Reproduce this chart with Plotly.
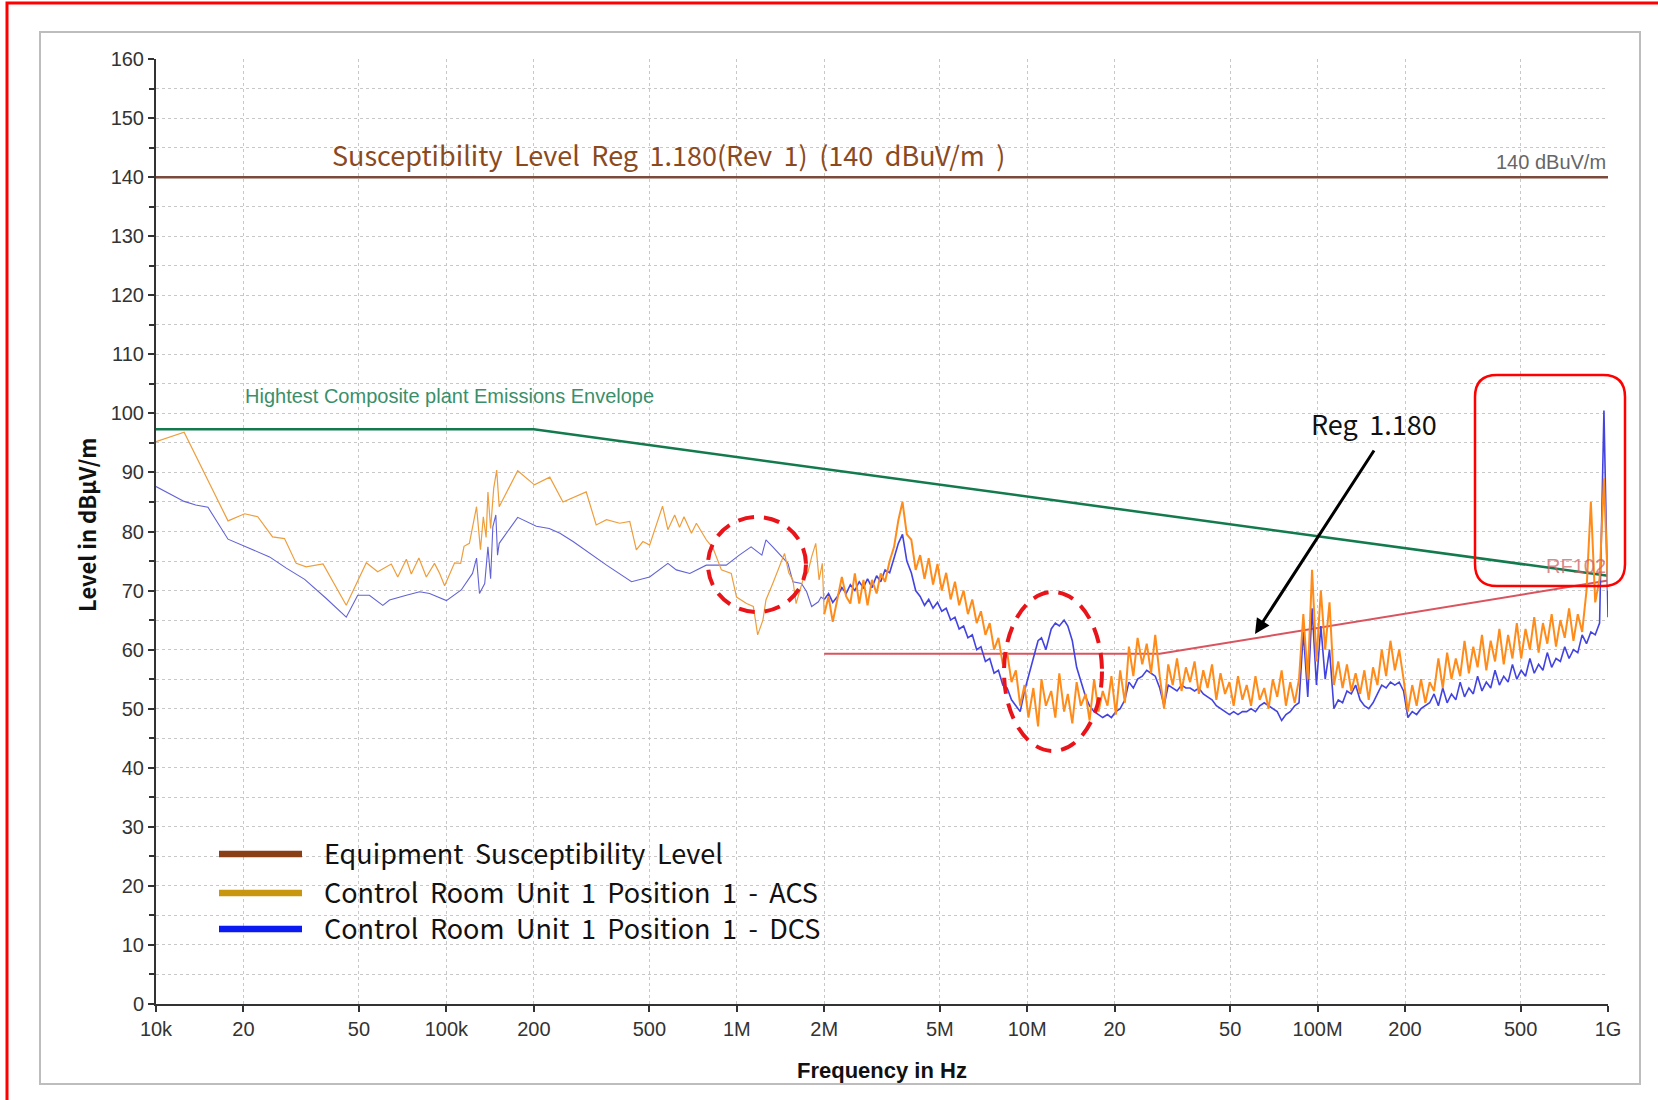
import plotly.graph_objects as go

# ---------------- data ----------------
# ACS (Control Room Unit 1 Position 1 - ACS), low-frequency part (Hz, dBuV/m)
acs_low_hz = [1.00e4, 1.25e4, 1.77e4, 2.02e4, 2.24e4, 2.52e4, 2.77e4, 3.04e4, 3.29e4, 3.76e4,
              4.52e4, 5.30e4, 5.80e4, 6.46e4, 6.80e4, 7.28e4, 7.57e4, 8.04e4, 8.53e4, 9.10e4,
              9.48e4, 9.86e4, 1.067e5, 1.12e5, 1.15e5, 1.20e5, 1.27e5, 1.31e5, 1.34e5, 1.37e5,
              1.39e5, 1.42e5, 1.455e5, 1.49e5, 1.52e5, 1.76e5, 2.01e5, 2.27e5, 2.52e5, 3.03e5,
              3.28e5, 3.56e5, 3.95e5, 4.28e5, 4.51e5, 4.75e5, 5.01e5, 5.55e5, 5.79e5, 6.11e5,
              6.35e5, 6.58e5, 6.98e5, 7.26e5, 7.85e5, 8.28e5, 8.85e5, 9.57e5, 9.98e5, 1.08e6,
              1.14e6, 1.18e6, 1.23e6, 1.26e6, 1.33e6, 1.41e6, 1.46e6, 1.51e6, 1.56e6, 1.60e6,
              1.69e6, 1.76e6, 1.81e6, 1.87e6, 1.92e6, 1.97e6]
acs_low_db = [95.2, 96.8, 81.8, 83.0, 82.5, 79.1, 78.8, 74.6, 74.0, 74.5,
              67.5, 74.7, 73.2, 74.5, 72.3, 75.3, 72.8, 75.5, 72.3, 74.6,
              72.9, 70.8, 74.7, 74.6, 77.5, 78.0, 84.2, 76.9, 82.5, 79.0,
              86.7, 80.5, 87.3, 90.4, 84.2, 90.3, 87.9, 89.2, 85.0, 86.7,
              81.1, 82.0, 81.4, 81.7, 76.9, 78.3, 77.7, 84.3, 80.3, 82.8,
              80.7, 82.5, 79.7, 81.4, 78.6, 77.2, 73.5, 72.9, 68.9, 67.8,
              67.3, 62.5, 65.0, 68.4, 71.2, 74.6, 76.3, 73.0, 71.8, 67.8,
              71.8, 73.2, 75.7, 78.0, 71.8, 74.6]

# DCS (Control Room Unit 1 Position 1 - DCS), low-frequency part
dcs_low_hz = [1.00e4, 1.25e4, 1.37e4, 1.51e4, 1.77e4, 2.10e4, 2.46e4, 2.81e4, 3.25e4, 3.85e4,
              4.52e4, 4.95e4, 5.43e4, 6.04e4, 6.37e4, 7.28e4, 8.09e4, 8.75e4, 1.00e5, 1.125e5,
              1.23e5, 1.27e5, 1.30e5, 1.355e5, 1.39e5, 1.42e5, 1.445e5, 1.48e5, 1.50e5, 1.52e5,
              1.76e5, 2.04e5, 2.26e5, 2.46e5, 2.73e5, 3.56e5, 4.34e5, 5.01e5, 5.79e5, 6.19e5,
              6.89e5, 7.85e5, 9.20e5, 1.02e6, 1.12e6, 1.22e6, 1.26e6, 1.33e6, 1.41e6, 1.50e6,
              1.56e6, 1.67e6, 1.74e6, 1.81e6, 1.91e6, 1.95e6]
dcs_low_db = [87.6, 85.1, 84.5, 84.1, 78.7, 77.2, 75.7, 73.8, 71.9, 68.7,
              65.5, 69.2, 69.2, 67.5, 68.4, 69.2, 69.8, 69.5, 68.3, 70.1,
              72.9, 75.5, 69.5, 71.2, 77.4, 72.0, 80.8, 82.8, 76.0, 78.0,
              82.4, 80.9, 80.5, 79.7, 78.3, 74.3, 71.5, 72.3, 74.6, 73.5,
              72.9, 74.3, 74.3, 76.0, 77.4, 76.0, 78.6, 77.4, 76.0, 74.6,
              71.5, 71.2, 69.8, 67.3, 68.1, 68.9]

# Swept part 2 MHz - 1 GHz (MHz)
sweep_mhz = [2.00, 2.07, 2.14, 2.22, 2.30, 2.38, 2.46, 2.55, 2.64, 2.73,
             2.82, 2.92, 3.03, 3.13, 3.24, 3.36, 3.48, 3.60, 3.72, 3.85,
             3.99, 4.13, 4.28, 4.43, 4.58, 4.74, 4.91, 5.08, 5.26, 5.45,
             5.64, 5.83, 6.04, 6.25, 6.47, 6.70, 6.93, 7.18, 7.43, 7.69,
             7.96, 8.24, 8.53, 8.83, 9.14, 9.46, 9.79, 10.1, 10.5, 10.9,
             11.2, 11.6, 12.1, 12.5, 12.9, 13.4, 13.8, 14.3, 14.8, 15.3,
             15.9, 16.4, 17.0, 17.6, 18.2, 18.9, 19.5, 20.2, 20.9, 21.7,
             22.4, 23.2, 24.0, 24.9, 25.8, 26.7, 27.6, 28.6, 29.6, 30.6,
             31.7, 32.8, 34.0, 35.2, 36.4, 37.7, 39.0, 40.4, 41.8, 43.3,
             44.8, 46.3, 48.0, 49.7, 51.4, 53.2, 55.1, 57.0, 59.0, 61.1,
             63.2, 65.5, 67.8, 70.1, 72.6, 75.2, 77.8, 80.5, 83.4, 86.3,
             89.3, 92.5, 95.7, 99.1, 102.6, 106.2, 109.9, 113.8, 117.8, 121.9,
             126.2, 130.6, 135.2, 140.0, 144.9, 150.0, 155.2, 160.7, 166.3, 172.2,
             178.2, 184.5, 191.0, 197.7, 204.6, 211.8, 219.3, 227.0, 235.0, 243.2,
             251.8, 260.6, 269.8, 279.3, 289.1, 299.2, 309.7, 320.6, 331.9, 343.6,
             355.6, 368.1, 381.1, 394.5, 408.3, 422.7, 437.5, 452.9, 468.8, 485.3,
             502.3, 520.0, 538.3, 557.2, 576.8, 597.0, 618.0, 639.7, 662.2, 685.5,
             709.6, 734.5, 760.3, 787.0, 814.7, 843.3, 873.0, 903.6, 935.4, 968.3,
             1000.0]
acs_sweep_db = [66.0, 69.0, 64.7, 68.4, 72.3, 69.0, 67.8, 72.9, 67.8, 71.8,
                67.5, 71.8, 69.5, 72.9, 71.5, 75.0, 77.4, 81.9, 85.0, 79.5,
                78.6, 73.5, 76.0, 72.0, 75.5, 71.0, 74.5, 70.0, 73.0, 68.5,
                71.5, 67.5, 70.0, 66.0, 68.5, 64.5, 66.5, 62.5, 64.5, 60.0,
                62.0, 57.5, 59.5, 54.5, 56.5, 50.5, 54.0, 48.5, 53.5, 47.0,
                55.0, 50.5, 53.0, 48.5, 56.0, 49.5, 52.5, 47.5, 54.5, 50.5,
                52.5, 48.0, 55.0, 49.5, 53.0, 50.5, 55.5, 49.0, 56.5, 51.0,
                60.5, 55.5, 62.0, 57.5, 61.0, 56.0, 62.5, 55.5, 50.0, 57.5,
                54.0, 58.5, 53.0, 57.0, 54.5, 58.0, 52.5, 56.5, 53.5, 57.5,
                51.5, 56.0, 52.5, 54.5, 50.5, 55.5, 51.5, 54.0, 50.5, 55.5,
                51.5, 53.5, 50.0, 55.0, 52.0, 56.5, 50.5, 54.5, 51.0, 55.0,
                66.0, 55.0, 73.5, 58.0, 70.0, 60.0, 68.0, 54.0, 58.0, 53.5,
                57.5, 53.0, 56.0, 52.5, 56.5, 51.5, 57.0, 54.0, 60.0, 55.5,
                61.5, 56.5, 60.0, 55.0, 49.5, 54.0, 50.5, 55.0, 51.0, 54.5,
                53.0, 58.5, 53.5, 59.5, 55.0, 58.5, 55.5, 61.5, 56.0, 60.5,
                57.0, 62.5, 56.5, 61.5, 58.0, 63.5, 57.5, 62.5, 58.5, 64.5,
                58.5, 63.5, 60.0, 65.5, 59.5, 64.5, 61.0, 66.0, 60.5, 65.0,
                62.0, 67.0, 61.5, 66.0, 63.0, 70.0, 85.0, 68.0, 72.0, 89.0,
                70.0]
dcs_sweep_db = [68.5, 69.5, 68.0, 69.0, 70.5, 69.5, 71.0, 70.0, 71.5, 70.5,
                72.0, 70.5, 72.5, 71.5, 73.5, 73.0, 75.5, 78.0, 79.5, 75.0,
                73.0, 70.0, 69.0, 67.5, 68.5, 67.0, 68.0, 66.5, 67.0, 65.0,
                65.5, 63.5, 64.0, 62.0, 62.5, 60.0, 60.5, 58.0, 58.5, 56.0,
                56.5, 54.0, 53.5, 51.5, 50.5, 49.5, 53.0, 55.5, 58.5, 61.5,
                62.0, 60.0, 63.5, 64.5, 64.0, 65.0, 64.0, 61.5, 57.0, 54.5,
                52.0, 50.5, 49.5, 49.0, 48.5, 49.0, 48.5, 49.5, 50.0, 51.5,
                54.5, 53.5, 55.0, 55.5, 56.5, 56.0, 55.5, 53.5, 50.5, 54.0,
                53.5, 53.0, 54.0, 53.5, 53.5, 53.0, 53.5, 52.5, 52.0, 51.5,
                50.5, 50.0, 49.5, 49.0, 49.5, 49.0, 49.5, 49.5, 50.0, 49.5,
                50.5, 51.0, 50.5, 50.0, 49.5, 48.0, 49.0, 49.5, 50.5, 51.0,
                63.0, 52.0, 67.0, 54.0, 64.0, 55.0, 60.0, 50.0, 51.5, 51.0,
                53.0, 52.5, 54.0, 51.5, 50.5, 50.0, 51.0, 52.5, 54.0, 53.5,
                54.5, 54.0, 54.5, 53.0, 48.5, 49.5, 49.0, 50.0, 50.5, 51.0,
                52.5, 50.5, 53.5, 51.0, 52.5, 51.5, 54.5, 52.0, 53.5, 52.5,
                55.5, 53.0, 54.5, 53.5, 56.5, 54.0, 55.5, 54.5, 57.5, 55.0,
                56.5, 55.5, 58.5, 56.0, 57.5, 56.5, 59.5, 57.0, 58.5, 58.0,
                60.5, 58.5, 60.0, 59.5, 62.5, 61.0, 63.0, 62.5, 64.5, 100.5,
                65.5]

# Limit lines
susc_hz = [1e4, 1e9]
susc_db = [140, 140]
envelope_hz = [1e4, 2e5, 1e9]
envelope_db = [97.3, 97.3, 72.5]
rf102_hz = [2e6, 2.86e7, 1e9]
rf102_db = [59.3, 59.3, 71.7]

tick_hz = [1e4, 2e4, 5e4, 1e5, 2e5, 5e5, 1e6, 2e6, 5e6, 1e7, 2e7, 5e7, 1e8, 2e8, 5e8, 1e9]
tick_text = ['10k', '20', '50', '100k', '200', '500', '1M', '2M', '5M', '10M', '20', '50',
             '100M', '200', '500', '1G']

legend_names = ['Equipment Susceptibility Level',
                'Control Room Unit 1 Position 1 - ACS',
                'Control Room Unit 1 Position 1 - DCS']
legend_colors = ['#8B3F14', '#C9960F', '#0A1AF0']


def wide(s):
    # the original font has wider word spaces
    return s.replace(' ', ' \u2009')


# ---------------- figure ----------------
sweep_hz = [f * 1e6 for f in sweep_mhz]

fig = go.Figure()
fig.add_trace(go.Scatter(x=susc_hz, y=susc_db, mode='lines',
                         line=dict(color='#7A4A3C', width=2.5), showlegend=False))
fig.add_trace(go.Scatter(x=envelope_hz, y=envelope_db, mode='lines',
                         line=dict(color='#137A4E', width=2.5), showlegend=False))
fig.add_trace(go.Scatter(x=rf102_hz, y=rf102_db, mode='lines',
                         line=dict(color='#D9545E', width=2), showlegend=False))
# DCS
fig.add_trace(go.Scatter(x=dcs_low_hz + sweep_hz[:1], y=dcs_low_db + dcs_sweep_db[:1],
                         mode='lines', line=dict(color='#6262D6', width=1.1), showlegend=False))
fig.add_trace(go.Scatter(x=sweep_hz, y=dcs_sweep_db, mode='lines',
                         line=dict(color='#4343E2', width=1.6), showlegend=False))
# ACS
fig.add_trace(go.Scatter(x=acs_low_hz + sweep_hz[:1], y=acs_low_db + acs_sweep_db[:1],
                         mode='lines', line=dict(color='#EE9E3C', width=1.2), showlegend=False))
fig.add_trace(go.Scatter(x=sweep_hz, y=acs_sweep_db, mode='lines',
                         line=dict(color='#FF8C1A', width=2.0), showlegend=False))

L, R, T, B = 156, 50, 59, 96
W, H = 1658, 1100
pw, ph = W - L - R, H - T - B


def px(x):
    return (x - L) / pw


def py(y):
    return (H - B - y) / ph


shapes = []
annotations = []

# outer red frame and gray panel frame
shapes.append(dict(type='rect', xref='paper', yref='paper', x0=px(7), x1=px(1700),
                   y0=py(1140), y1=py(3), line=dict(color='#FF0000', width=3)))
shapes.append(dict(type='rect', xref='paper', yref='paper', x0=px(40), x1=px(1640),
                   y0=py(1084), y1=py(32), line=dict(color='#BDBDBD', width=2)))

# legend (manual)
leg_y = [854, 893, 929]
for name, col, yy in zip(legend_names, legend_colors, leg_y):
    shapes.append(dict(type='line', xref='paper', yref='paper', x0=px(219), x1=px(302),
                       y0=py(yy), y1=py(yy), line=dict(color=col, width=6.5)))
    annotations.append(dict(xref='paper', yref='paper', x=px(322), y=py(yy - 2), text=wide(name),
                            showarrow=False, xanchor='left', yanchor='middle',
                            font=dict(family='Noto Sans CJK KR', size=27, color='#111')))

# dashed red ellipses
shapes.append(dict(type='circle', xref='paper', yref='paper', x0=px(708), x1=px(806),
                   y0=py(612), y1=py(517), line=dict(color='#E8141A', width=4, dash='16px,10px')))
shapes.append(dict(type='circle', xref='paper', yref='paper', x0=px(1004), x1=px(1102),
                   y0=py(751), y1=py(592), line=dict(color='#E8141A', width=4, dash='16px,10px')))

# rounded red rectangle
x0, x1, yt, yb = px(1475), px(1625), py(375), py(586)
rx, ry = 22 / pw, 22 / ph
path = (f"M {x0+rx},{yt} L {x1-rx},{yt} Q {x1},{yt} {x1},{yt-ry} L {x1},{yb+ry} "
        f"Q {x1},{yb} {x1-rx},{yb} L {x0+rx},{yb} Q {x0},{yb} {x0},{yb+ry} "
        f"L {x0},{yt-ry} Q {x0},{yt} {x0+rx},{yt} Z")
shapes.append(dict(type='path', xref='paper', yref='paper', path=path,
                   line=dict(color='#FF0000', width=2.5)))

# texts
annotations.append(dict(xref='paper', yref='paper', x=px(330), y=py(155), showarrow=False,
                        text=wide('Susceptibility Level Reg 1.180(Rev 1) (140 dBuV/m )'),
                        xanchor='left', yanchor='middle',
                        font=dict(family='Noto Sans CJK KR', size=27, color='#8B4A1E')))
annotations.append(dict(xref='paper', yref='paper', x=1.0, y=py(162), showarrow=False,
                        text='140 dBuV/m', xanchor='right', yanchor='middle',
                        font=dict(family='Liberation Sans', size=20, color='#666')))
annotations.append(dict(xref='paper', yref='paper', x=px(243), y=py(396), showarrow=False,
                        text='Hightest Composite plant Emissions Envelope',
                        xanchor='left', yanchor='middle',
                        font=dict(family='Liberation Sans', size=20, color='#3A8F6A')))
annotations.append(dict(xref='paper', yref='paper', x=1.0, y=py(566), showarrow=False,
                        text='RF102', xanchor='right', yanchor='middle',
                        font=dict(family='Liberation Sans', size=20, color='rgba(205,100,105,0.75)')))
annotations.append(dict(xref='paper', yref='paper', x=px(1309), y=py(423), showarrow=False,
                        text=wide('Reg 1.180'), xanchor='left', yanchor='middle',
                        font=dict(family='Noto Sans CJK KR', size=27, color='#111')))
annotations.append(dict(xref='paper', yref='paper', x=px(1255), y=py(634), text='',
                        showarrow=True, arrowhead=2, arrowsize=1, arrowwidth=3,
                        arrowcolor='#000', axref='pixel', ayref='pixel', ax=120, ay=-185))
annotations.append(dict(xref='paper', yref='paper', x=px(86), y=py(525), showarrow=False,
                        text='Level in dBµV/m', textangle=-90, xanchor='center', yanchor='middle',
                        font=dict(family='Noto Sans CJK KR', size=22, color='#111', weight='bold')))
annotations.append(dict(xref='paper', yref='paper', x=0.5, y=py(1070), showarrow=False,
                        text='Frequency in Hz', xanchor='center', yanchor='middle',
                        font=dict(family='Liberation Sans', size=22, color='#111', weight='bold')))

fig.update_layout(
    width=W, height=H,
    margin=dict(l=L, r=R, t=T, b=B),
    paper_bgcolor='white', plot_bgcolor='white',
    shapes=shapes, annotations=annotations, showlegend=False,
    xaxis=dict(type='log', range=[4, 9], tickvals=tick_hz, ticktext=tick_text,
               showgrid=True, gridcolor='#C8C8C8', griddash='dot', gridwidth=1,
               showline=True, linecolor='#333', linewidth=2, ticks='outside', ticklen=6,
               tickwidth=2, tickcolor='#333', zeroline=False,
               tickfont=dict(family='Liberation Sans', size=20, color='#333')),
    yaxis=dict(range=[0, 160], dtick=10, tick0=0,
               showgrid=True, gridcolor='#C8C8C8', griddash='dot', gridwidth=1,
               showline=True, linecolor='#333', linewidth=2, ticks='outside', ticklen=6,
               tickwidth=2, tickcolor='#333', zeroline=False,
               tickfont=dict(family='Liberation Sans', size=20, color='#333'),
               minor=dict(dtick=5, tick0=0, ticks='outside', ticklen=5, tickwidth=2,
                          tickcolor='#333', showgrid=True, gridcolor='#C8C8C8',
                          griddash='dot', gridwidth=1)),
)

fig.write_html('out.html')
